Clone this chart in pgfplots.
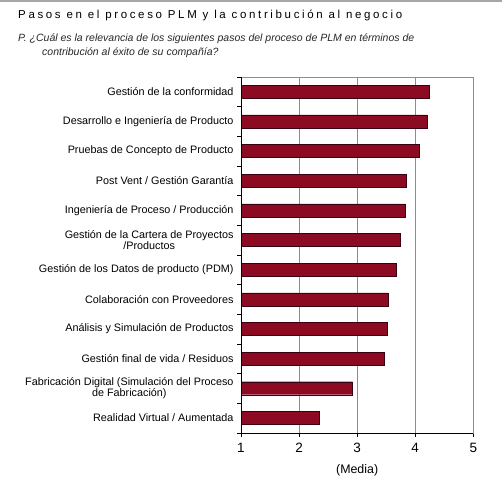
\documentclass[border=0pt]{standalone}
\usepackage{pgfplots}
\pgfplotsset{compat=1.18}
\usepackage{fontspec}
\setmainfont{Liberation Sans}
\definecolor{barred}{HTML}{8C0A22}
\definecolor{baredge}{HTML}{3A0010}
\definecolor{gridgray}{HTML}{8C8C8C}
\begin{document}
\begin{tikzpicture}
\path[use as bounding box] (0pt,0pt) rectangle (502pt,480pt);
\draw[gray!70, line width=1.5pt] (0pt,479.2pt) -- (502pt,479.2pt);
\node[anchor=west, inner sep=0pt, font=\fontsize{11.5}{13}\selectfont\addfontfeatures{LetterSpace=23}] at (18pt,465pt) {Pasos en el proceso PLM y la contribución al negocio};
\node[anchor=west, inner sep=0pt, font=\fontsize{10.5}{11}\selectfont\itshape, text=black!85] at (18pt,441.5pt) {P. ¿Cuál es la relevancia de los siguientes pasos del proceso de PLM en términos de};
\node[anchor=west, inner sep=0pt, font=\fontsize{10.5}{11}\selectfont\itshape, text=black!85] at (42pt,427pt) {contribución al éxito de su compañía?};
\begin{axis}[name=ax, at={(241pt,47.3pt)}, anchor=south west, scale only axis,
  width=232.3pt, height=355.7pt,
  xbar, xmin=1, xmax=5, ymin=-0.5, ymax=11.5, y dir=reverse,
  bar width=13pt,
  xtick={1,2,3,4,5},
  ytick={0,1,2,3,4,5,6,7,8,9,10,11},
  yticklabels={Gestión de la conformidad,
    Desarrollo e Ingeniería de Producto,
    Pruebas de Concepto de Producto,
    Post Vent / Gestión Garantía,
    Ingeniería de Proceso / Producción,
    {Gestión de la Cartera de Proyectos\\/Productos},
    Gestión de los Datos de producto (PDM),
    Colaboración con Proveedores,
    Análisis y Simulación de Productos,
    Gestión final de vida / Residuos,
    {Fabricación Digital (Simulación del Proceso\\de Fabricación)},
    Realidad Virtual / Aumentada},
  minor ytick={-0.5,0.5,...,11.5},
  major y tick style={draw=none},
  xtick pos=bottom, ytick pos=left,
  tick align=outside, major tick length=4pt, minor tick length=4pt,
  tick style={black, thin},
  xmajorgrids, grid style={gridgray, thin},
  axis line style={gridgray, thin},
  yticklabel style={font=\fontsize{10.8}{11.5}\selectfont, align=center},
  xticklabel style={font=\fontsize{13.5}{14}\selectfont, yshift=-3pt},
  /pgf/number format/assume math mode=true,
  xlabel={(Media)},
  xlabel style={font=\fontsize{12.4}{13}\selectfont, yshift=-5pt},
]
\addplot[fill=barred, draw=baredge] coordinates {
  (4.24,0) (4.20,1) (4.07,2) (3.85,3) (3.82,4) (3.74,5)
  (3.68,6) (3.53,7) (3.51,8) (3.46,9) (2.92,10) (2.34,11)};
\end{axis}
\draw[black, thin] (ax.north west) -- (ax.south west) -- (ax.south east);
\end{tikzpicture}
\end{document}
